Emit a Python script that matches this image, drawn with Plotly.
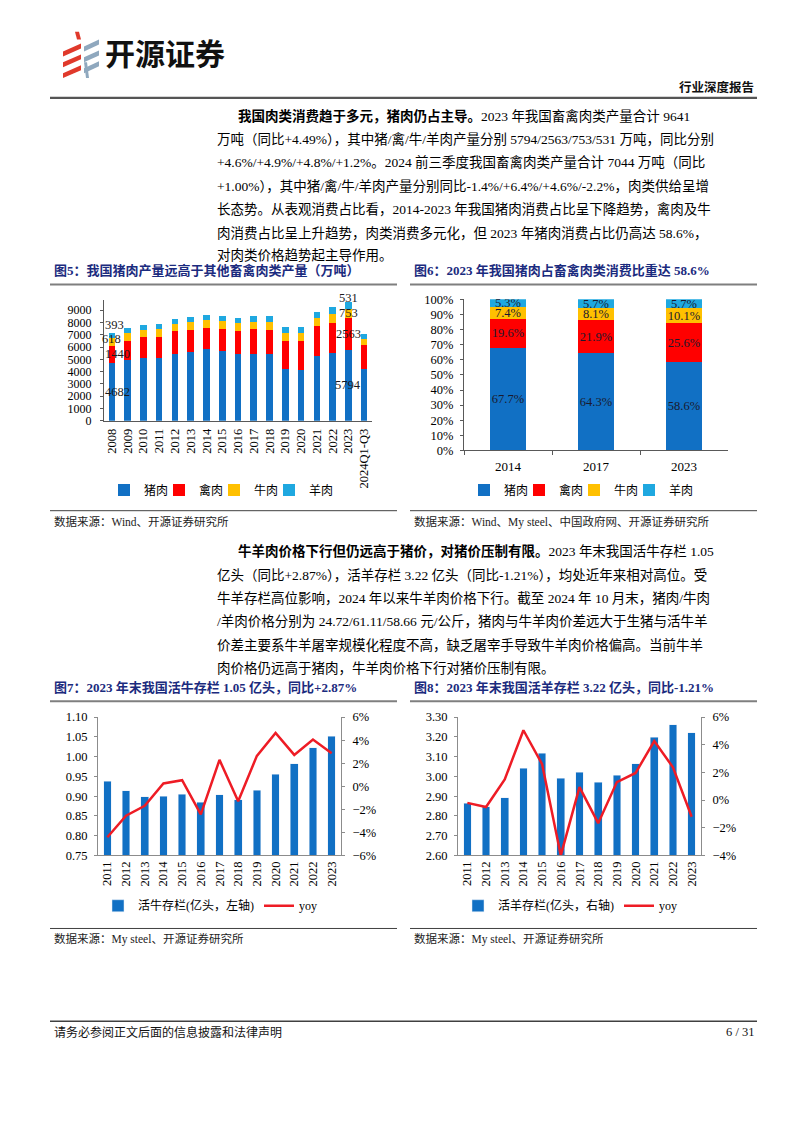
import plotly.graph_objects as go

W, H = 802, 1133


def px(x):
    return x / W


def py(y):
    return 1 - y / H


SERIF = "Liberation Serif, 'Noto Sans CJK SC', serif"
SANS = "'Noto Sans CJK SC', sans-serif"

# ---------------- data ----------------
years5 = ['2008', '2009', '2010', '2011', '2012', '2013', '2014', '2015', '2016',
          '2017', '2018', '2019', '2020', '2021', '2022', '2023', '2024Q1-Q3']
pork = [4682, 4933, 5138, 5132, 5444, 5619, 5821, 5645, 5426, 5452, 5404, 4255, 4113, 5296, 5541, 5794, 4196]
poultry = [1440, 1595, 1656, 1708, 1823, 1798, 1751, 1826, 1888, 1982, 1994, 2239, 2361, 2380, 2443, 2563, 1963]
beef = [618, 626, 629, 611, 615, 613, 616, 617, 617, 635, 644, 667, 672, 698, 718, 753, 518]
mutton = [393, 389, 399, 393, 401, 408, 428, 440, 460, 471, 475, 488, 492, 514, 525, 531, 367]
meat_names = ['猪肉', '禽肉', '牛肉', '羊肉']

years6 = ['2014', '2017', '2023']
share_pork = [67.7, 64.3, 58.6]
share_poultry = [19.6, 21.9, 25.6]
share_beef = [7.4, 8.1, 10.1]
share_mutton = [5.3, 5.7, 5.7]

years78 = ['2011', '2012', '2013', '2014', '2015', '2016', '2017', '2018', '2019',
           '2020', '2021', '2022', '2023']
cattle = [0.938, 0.914, 0.898, 0.900, 0.905, 0.884, 0.904, 0.891, 0.915, 0.956, 0.982, 1.022, 1.051]
cattle_yoy = [-4.43, -2.55, -1.70, 0.24, 0.53, -2.44, 2.29, -1.30, 2.64, 4.63, 2.72, 4.06, 2.87]
sheep = [2.865, 2.845, 2.893, 3.040, 3.117, 2.990, 3.022, 2.970, 3.006, 3.063, 3.197, 3.262, 3.222]
sheep_yoy = [-0.20, -0.50, 1.49, 5.05, 2.60, -4.00, 0.94, -1.67, 1.30, 1.96, 4.27, 2.37, -1.21]

# ---------------- styles ----------------
meat_colors = ['#1170C4', '#FF0000', '#FFC000', '#1FA8E0']
BAR_BLUE = '#1170C4'
LINE_RED = '#EE1C25'
NAVY = '#1B2B7E'
AX_DARK = '#595959'
AX_GRAY = '#8c8c8c'

fig = go.Figure()

# chart 5: stacked production
series5 = [pork, poultry, beef, mutton]
for k, (name, vals, col) in enumerate(zip(meat_names, series5, meat_colors)):
    fig.add_trace(go.Bar(x=years5, y=vals, name=name, marker=dict(color=col, line=dict(width=0)),
                         width=0.42, xaxis='x', yaxis='y', legend='legend', hoverinfo='skip',
                         legendwidth=26 if k == 3 else 10))

# chart 6: stacked shares
series6 = [share_pork, share_poultry, share_beef, share_mutton]
for k, (name, vals, col) in enumerate(zip(meat_names, series6, meat_colors)):
    fig.add_trace(go.Bar(x=years6, y=vals, name=name, marker=dict(color=col, line=dict(width=0)),
                         width=0.4, xaxis='x2', yaxis='y2', legend='legend2',
                         legendwidth=26 if k == 3 else 10,
                         text=[f'{v:.1f}%' for v in vals], textposition='inside',
                         insidetextanchor='middle', constraintext='none', textangle=0,
                         insidetextfont=dict(family=SERIF, size=12.5, color='#1a1a2e'),
                         hoverinfo='skip'))

# chart 7: cattle
fig.add_trace(go.Bar(x=years78, y=cattle, name='活牛存栏(亿头，左轴)', marker=dict(color=BAR_BLUE),
                     width=0.41, xaxis='x3', yaxis='y3', legend='legend3', hoverinfo='skip'))
fig.add_trace(go.Scatter(x=years78, y=cattle_yoy, name='yoy', mode='lines',
                         line=dict(color=LINE_RED, width=2.5), xaxis='x3', yaxis='y4',
                         legend='legend3', hoverinfo='skip'))

# chart 8: sheep
fig.add_trace(go.Bar(x=years78, y=sheep, name='活羊存栏(亿头，右轴)', marker=dict(color=BAR_BLUE),
                     width=0.41, xaxis='x4', yaxis='y5', legend='legend4', hoverinfo='skip'))
fig.add_trace(go.Scatter(x=years78, y=sheep_yoy, name='yoy', mode='lines',
                         line=dict(color=LINE_RED, width=2.5), xaxis='x4', yaxis='y6',
                         legend='legend4', hoverinfo='skip', cliponaxis=False))

annotations = []

# chart 5 value labels (2008 and 2023 only)
lab_points = [0, 15]
lab_xshift = {0: [6, 6, 0, 3], 15: [0, 0, 0, 0]}
lab_yshift = {0: [0, 0, 3, 11], 15: [0, 0, 0, 8]}
for i in lab_points:
    base = 0
    for k, vals in enumerate(series5):
        v = vals[i]
        annotations.append(dict(x=i, y=base + v / 2, xref='x', yref='y', text=str(v),
                                showarrow=False, xshift=lab_xshift[i][k], yshift=lab_yshift[i][k],
                                font=dict(family=SERIF, size=12.5, color='#1a1a1a')))
        base += v


def tick_axis(**kw):
    d = dict(showgrid=False, zeroline=False, showline=True, linewidth=1,
             tickfont=dict(family=SERIF, size=13, color='#000'), fixedrange=True)
    d.update(kw)
    return d


F125 = dict(family=SERIF, size=12.5, color='#000')
F12 = dict(family=SERIF, size=12, color='#000')

fig.update_layout(
    width=W, height=H, autosize=False,
    margin=dict(l=0, r=0, t=0, b=0),
    paper_bgcolor='white', plot_bgcolor='white',
    barmode='stack',
    xaxis=tick_axis(domain=[px(104), px(372)], anchor='y', type='category', tickangle=-90,
                    range=[-0.5, len(years5) - 0.5], autorange=False, tickmode='linear', dtick=1,
                    linecolor=AX_DARK, ticks='', ticklabelstandoff=2, tickfont=F125),
    yaxis=tick_axis(domain=[py(419), py(297)], anchor='x', range=[0, 9800], dtick=1000,
                    tickformat='d', linecolor=AX_DARK, ticks='outside', ticklen=3, tickcolor=AX_DARK,
                    ticklabelstandoff=6, tickfont=F12),
    xaxis2=tick_axis(domain=[px(464), px(728)], anchor='y2', type='category',
                     range=[-0.5, len(years6) - 0.5], autorange=False,
                     linecolor=AX_DARK, ticks='outside', ticklen=4, tickcolor=AX_DARK,
                     tickson='boundaries', ticklabelstandoff=4),
    yaxis2=tick_axis(domain=[py(449), py(296)], anchor='x2', range=[0, 100], dtick=10,
                     ticksuffix='%', linecolor=AX_DARK, ticks='outside', ticklen=3, tickcolor=AX_DARK,
                     ticklabelstandoff=4, tickfont=F125),
    xaxis3=tick_axis(domain=[px(98), px(341)], anchor='y3', type='category', tickangle=-90,
                     range=[-0.5, len(years78) - 0.5], autorange=False, tickmode='linear', dtick=1,
                     linecolor=AX_GRAY, ticks='', tickfont=F125),
    yaxis3=tick_axis(domain=[py(859), py(719)], anchor='x3', range=[0.75, 1.10], dtick=0.05,
                     tickformat='.2f', linecolor=AX_GRAY, ticks='outside', ticklen=3, tickcolor=AX_GRAY,
                     tickfont=F125, ticklabelstandoff=4),
    yaxis4=tick_axis(overlaying='y3', side='right', anchor='x3', range=[-6, 6], dtick=2,
                     ticksuffix='%', linecolor=AX_GRAY, ticks='outside', ticklen=3, tickcolor=AX_GRAY,
                     tickfont=F125, ticklabelstandoff=5),
    xaxis4=tick_axis(domain=[px(458), px(701)], anchor='y5', type='category', tickangle=-90,
                     range=[-0.5, len(years78) - 0.5], autorange=False, tickmode='linear', dtick=1,
                     linecolor=AX_GRAY, ticks='', tickfont=F125),
    yaxis5=tick_axis(domain=[py(859), py(719)], anchor='x4', range=[2.6, 3.3], dtick=0.1,
                     tickformat='.2f', linecolor=AX_GRAY, ticks='outside', ticklen=3, tickcolor=AX_GRAY,
                     tickfont=F125, ticklabelstandoff=4),
    yaxis6=tick_axis(overlaying='y5', side='right', anchor='x4', range=[-4, 6], dtick=2,
                     ticksuffix='%', linecolor=AX_GRAY, ticks='outside', ticklen=3, tickcolor=AX_GRAY,
                     tickfont=F125, ticklabelstandoff=5),
    legend=dict(orientation='h', x=px(222), xanchor='center', y=py(489), yanchor='middle',
                font=dict(family=SERIF, size=12, color='#000'), bgcolor='rgba(0,0,0,0)',
                itemwidth=30, traceorder='normal'),
    legend2=dict(orientation='h', x=px(582), xanchor='center', y=py(489), yanchor='middle',
                 font=dict(family=SERIF, size=12, color='#000'), bgcolor='rgba(0,0,0,0)',
                 itemwidth=30, traceorder='normal'),
    legend3=dict(orientation='h', x=px(98), xanchor='left', y=py(910), yanchor='middle',
                 font=dict(family=SERIF, size=12, color='#000'), bgcolor='rgba(0,0,0,0)',
                 itemwidth=30, traceorder='normal'),
    legend4=dict(orientation='h', x=px(458), xanchor='left', y=py(910), yanchor='middle',
                 font=dict(family=SERIF, size=12, color='#000'), bgcolor='rgba(0,0,0,0)',
                 itemwidth=30, traceorder='normal'),
)


def txt(x, y, s, size=13.5, color='#000', anchor='left', family=SERIF, bold=False):
    if bold:
        s = f'<b>{s}</b>'
    annotations.append(dict(x=px(x), y=py(y), xref='paper', yref='paper', text=s, showarrow=False,
                            xanchor=anchor, yanchor='middle',
                            font=dict(family=family, size=size, color=color)))


# header
txt(103, 46, '开源证券', size=30, family=SANS, bold=True, color='#111')
txt(756, 82, '行业深度报告', size=12.5, anchor='right', bold=True, color='#111')

# paragraph 1
p1 = [
    (236, 110, '<b>我国肉类消费趋于多元，猪肉仍占主导。</b>2023 年我国畜禽肉类产量合计 9641'),
    (215, 134, '万吨（同比+4.49%），其中猪/禽/牛/羊肉产量分别 5794/2563/753/531 万吨，同比分别'),
    (215, 157, '+4.6%/+4.9%/+4.8%/+1.2%。2024 前三季度我国畜禽肉类产量合计 7044 万吨（同比'),
    (215, 181, '+1.00%），其中猪/禽/牛/羊肉产量分别同比-1.4%/+6.4%/+4.6%/-2.2%，肉类供给呈增'),
    (215, 205, '长态势。从表观消费占比看，2014-2023 年我国猪肉消费占比呈下降趋势，禽肉及牛'),
    (215, 229, '肉消费占比呈上升趋势，肉类消费多元化，但 2023 年猪肉消费占比仍高达 58.6%，'),
    (215, 252, '对肉类价格趋势起主导作用。'),
]
for x, y, s in p1:
    txt(x, y, s)

# paragraph 2
p2 = [
    (236, 551, '<b>牛羊肉价格下行但仍远高于猪价，对猪价压制有限。</b>2023 年末我国活牛存栏 1.05'),
    (215, 575, '亿头（同比+2.87%），活羊存栏 3.22 亿头（同比-1.21%），均处近年来相对高位。受'),
    (215, 598, '牛羊存栏高位影响，2024 年以来牛羊肉价格下行。截至 2024 年 10 月末，猪肉/牛肉'),
    (215, 622, '/羊肉价格分别为 24.72/61.11/58.66 元/公斤，猪肉与牛羊肉价差远大于生猪与活牛羊'),
    (215, 646, '价差主要系牛羊屠宰规模化程度不高，缺乏屠宰手导致牛羊肉价格偏高。当前牛羊'),
    (215, 669, '肉价格仍远高于猪肉，牛羊肉价格下行对猪价压制有限。'),
]
for x, y, s in p2:
    txt(x, y, s)

# figure titles
txt(52, 267, '图5：我国猪肉产量远高于其他畜禽肉类产量（万吨）', size=13, color=NAVY, bold=True)
txt(412, 267, '图6：2023 年我国猪肉占畜禽肉类消费比重达 58.6%', size=13, color=NAVY, bold=True)
txt(52, 689, '图7：2023 年末我国活牛存栏 1.05 亿头，同比+2.87%', size=13, color=NAVY, bold=True)
txt(412, 689, '图8：2023 年末我国活羊存栏 3.22 亿头，同比-1.21%', size=13, color=NAVY, bold=True)

# sources
txt(52, 521, '数据来源：Wind、开源证券研究所', size=11.5, color='#222')
txt(412, 521, '数据来源：Wind、My steel、中国政府网、开源证券研究所', size=11.5, color='#222')
txt(52, 944, '数据来源：My steel、开源证券研究所', size=11.5, color='#222')
txt(412, 944, '数据来源：My steel、开源证券研究所', size=11.5, color='#222')

# footer
txt(52, 1038, '请务必参阅正文后面的信息披露和法律声明', size=12, color='#111')
txt(756, 1038, '6 / 31', size=12.5, anchor='right', color='#111')

shapes = []


def hline(x0, x1, y, color='#555', width=1.2):
    shapes.append(dict(type='line', xref='paper', yref='paper', x0=px(x0), x1=px(x1),
                       y0=py(y), y1=py(y), line=dict(color=color, width=width)))


hline(50, 757, 92, '#555', 2.2)
hline(50, 397, 281, '#7f7f7f', 2)
hline(410, 757, 281, '#7f7f7f', 2)
hline(50, 397, 510, '#404040', 1)
hline(410, 757, 510, '#404040', 1)
hline(50, 397, 703, '#7f7f7f', 2)
hline(410, 757, 703, '#7f7f7f', 2)
hline(50, 397, 933, '#404040', 1)
hline(410, 757, 933, '#404040', 1)
hline(50, 757, 1027, '#404040', 1.5)


def poly(pts, color):
    path = 'M ' + ' L '.join(f'{px(x):.5f},{py(y):.5f}' for x, y in pts) + ' Z'
    shapes.append(dict(type='path', xref='paper', yref='paper', path=path,
                       fillcolor=color, line=dict(width=0)))


# logo icon
RED = '#E0392B'
GB = '#8FA8BE'
poly([(75, 25), (79, 25), (81, 33), (77, 33)], RED)
for i in range(3):
    y0 = 37 + 11 * i
    poly([(63, y0 + 8), (81, y0), (81, y0 + 5), (63, y0 + 13)], RED)
for i in range(3):
    y0 = 33 + 11 * i
    poly([(84, y0 + 7), (99, y0), (99, y0 + 5), (84, y0 + 12)], GB)
poly([(84, 56), (87, 56), (89, 72), (86, 72)], GB)

fig.update_layout(annotations=annotations, shapes=shapes)

fig.write_html('out.html', config={'displayModeBar': False, 'staticPlot': True},
               post_script="document.body.style.margin='0';")
